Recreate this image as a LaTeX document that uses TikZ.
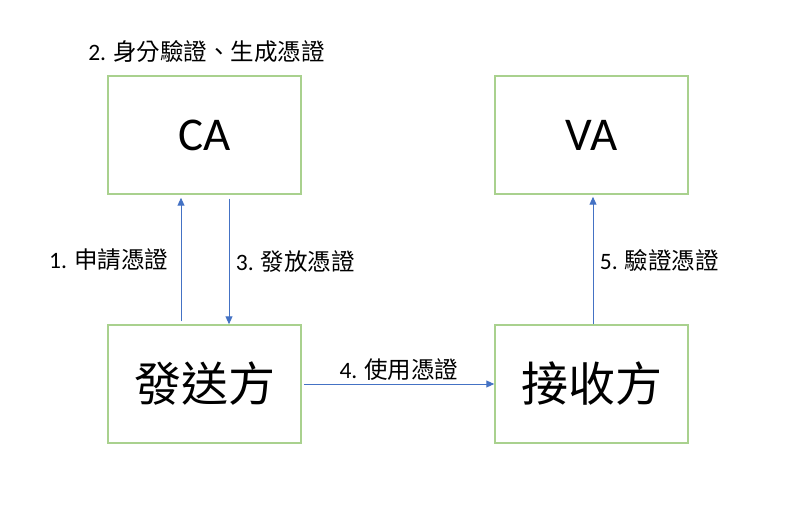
\documentclass[tikz,border=0pt]{standalone}
\usepackage{fontspec}
\setmainfont{Carlito}
\newfontfamily\cjk{Noto Sans CJK TC}
\usetikzlibrary{arrows.meta}
\definecolor{boxgreen}{HTML}{A9D18E}
\definecolor{arrowblue}{HTML}{4472C4}
\tikzset{
  party/.style={draw=boxgreen, line width=1.5pt, minimum width=193pt, minimum height=118pt, inner sep=0pt, font=\fontsize{47}{50}\selectfont},
  flow/.style={draw=arrowblue, line width=1pt, -{Triangle[length=8pt,width=7pt]}},
  msg/.style={font=\fontsize{23.5}{26}\selectfont}
}
\begin{document}
\begin{tikzpicture}[x=1pt,y=-1pt]
            \useasboundingbox (0,0) rectangle (790,505);
            \node[party] (CA) at (204.5,135) {CA};
            \node[party] (VA) at (591.5,135) {VA};
            \node[party] (sender) at (204.5,384) {\cjk 發送方};
            \node[party] (receiver) at (591.5,384) {\cjk 接收方};
            \node[msg] (verify) at (206.5,52) {2. \cjk 身分驗證、生成憑證};
            \draw[flow] ([xshift=-23.5pt,yshift=3pt]sender.north) to node[msg,midway,left=9pt] (request) {1. \cjk 申請憑證} ([xshift=-23.5pt,yshift=-3pt]CA.south);
            \draw[flow] ([xshift=24.5pt,yshift=-4pt]CA.south) to node[msg,midway,right=3pt] (issue) {3. \cjk 發放憑證} ([xshift=24.5pt]sender.north);
            \draw[flow] ([xshift=2pt]sender.east) to node[msg,midway,above=0pt] (use) {4. \cjk 使用憑證} (receiver.west);
            \draw[flow] ([xshift=1.5pt]receiver.north) to node[msg,midway,right=3pt] (check) {5. \cjk 驗證憑證} ([xshift=1.5pt,yshift=-2pt]VA.south);
        \end{tikzpicture}
\end{document}
